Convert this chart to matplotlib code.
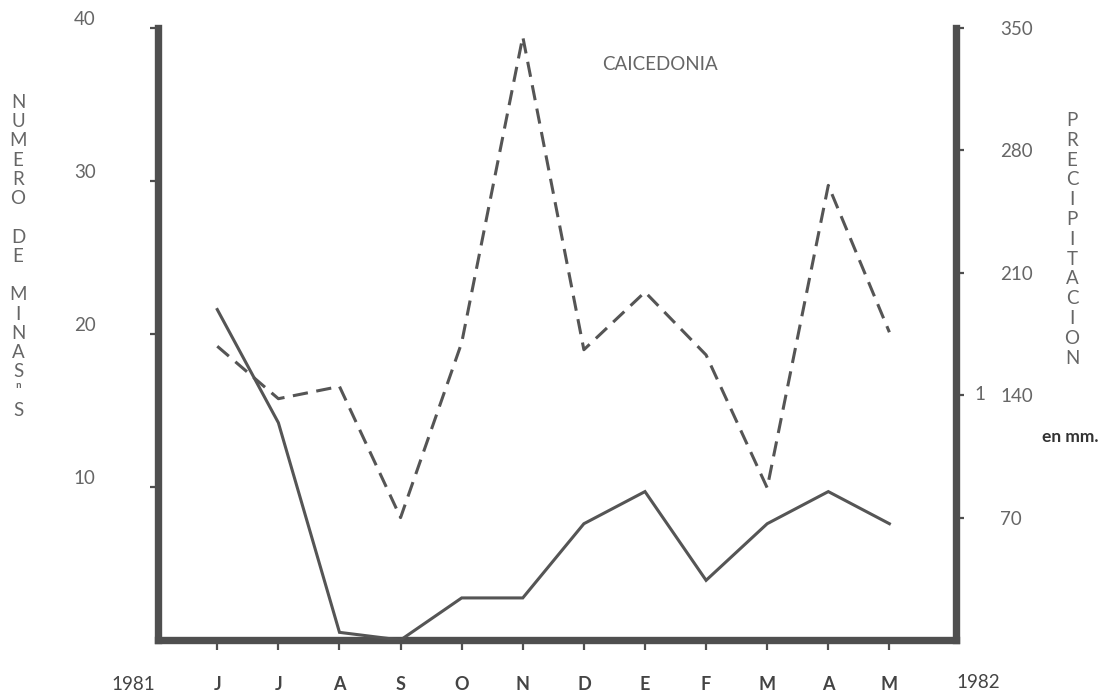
import numpy as np
import matplotlib
matplotlib.use('Agg')
import matplotlib.pyplot as plt

plt.rcParams['font.family'] = ['Lato', 'DejaVu Sans']

### Data (Jun 1981 - May 1982)
months = ['J', 'J', 'A', 'S', 'O', 'N', 'D', 'E', 'F', 'M', 'A', 'M']
minas = [21.6, 14.2, 0.5, 0.0, 2.75, 2.75, 7.6, 9.7, 3.9, 7.6, 9.7, 7.6]
precip = [168, 138, 145, 70, 170, 345, 166, 199, 163, 87, 260, 176]

left_ticks = [10, 20, 30, 40]
right_ticks = [70, 140, 210, 280, 350]

grey = '#555555'
axis_grey = '#4f4f4f'
text_grey = '#666666'

W, H = 1109, 695
fig = plt.figure(figsize=(W / 100, H / 100), dpi=100)
ax = fig.add_axes([158 / W, 1 - 640 / H, (956 - 158) / W, (640 - 28) / H])
ax2 = ax.twinx()

x = np.arange(len(months))

### lines
ax.plot(x, minas, color=grey, lw=2.2, solid_joinstyle='miter', zorder=3)
ax2.plot(x, precip, color=grey, lw=2.2, dashes=(5, 2.8), zorder=3)

ax.set_xlim(-0.97, 12.09)
ax.set_ylim(0, 40)
ax2.set_ylim(0, 350)

### spines
for a in (ax, ax2):
    a.spines['top'].set_visible(False)
ax.spines['right'].set_visible(False)
ax2.spines['left'].set_visible(False)
ax2.spines['bottom'].set_visible(False)
for s in (ax.spines['left'], ax.spines['bottom'], ax2.spines['right']):
    s.set_linewidth(5.3)
    s.set_color(axis_grey)
    s.set_capstyle('projecting')

### ticks
ax.set_xticks(x)
ax.set_xticklabels(months, fontsize=13, fontweight='bold', color='#444444')
ax.tick_params(axis='x', direction='out', length=7, width=1.6, color=axis_grey, pad=19)

ax.set_yticks(left_ticks)
ax.set_yticklabels([str(t) for t in left_ticks], fontsize=13.5, color=text_grey)
ax.tick_params(axis='y', direction='out', length=6, width=1.6, color=axis_grey, pad=39)
plt.setp(ax.get_yticklabels(), va='bottom')

ax2.set_yticks(right_ticks)
ax2.set_yticklabels([str(t) for t in right_ticks], fontsize=13.5, color=text_grey)
ax2.tick_params(axis='y', direction='out', length=6, width=1.6, color=axis_grey, pad=26)

### texts
fig.text(133 / W, 1 - 684 / H, '1981', ha='center', va='center', fontsize=13.5, color='#444444')
fig.text(978 / W, 1 - 682 / H, '1982', ha='center', va='center', fontsize=13.5, color='#444444')
fig.text(660 / W, 1 - 65 / H, 'CAICEDONIA', ha='center', va='center', fontsize=13.5, color=text_grey)
fig.text(1070 / W, 1 - 437 / H, 'en mm.', ha='center', va='center', fontsize=12.5,
         fontweight='bold', color='#333333')
fig.text(980 / W, 1 - 394 / H, '1', ha='center', va='center', fontsize=13.5, color=text_grey)

left_label = '\n'.join(list('NUMERO') + [''] + list('DE') + [''] + list('MINAS') + ['\u207f', 'S'])
fig.text(18 / W, 1 - 94 / H, left_label, ha='center', va='top', fontsize=13.5,
         color=text_grey, linespacing=1.16)
fig.text(1072 / W, 1 - 112 / H, '\n'.join('PRECIPITACION'), ha='center', va='top',
         fontsize=13.5, color=text_grey, linespacing=1.2)

fig.savefig('out.png', dpi=100)
